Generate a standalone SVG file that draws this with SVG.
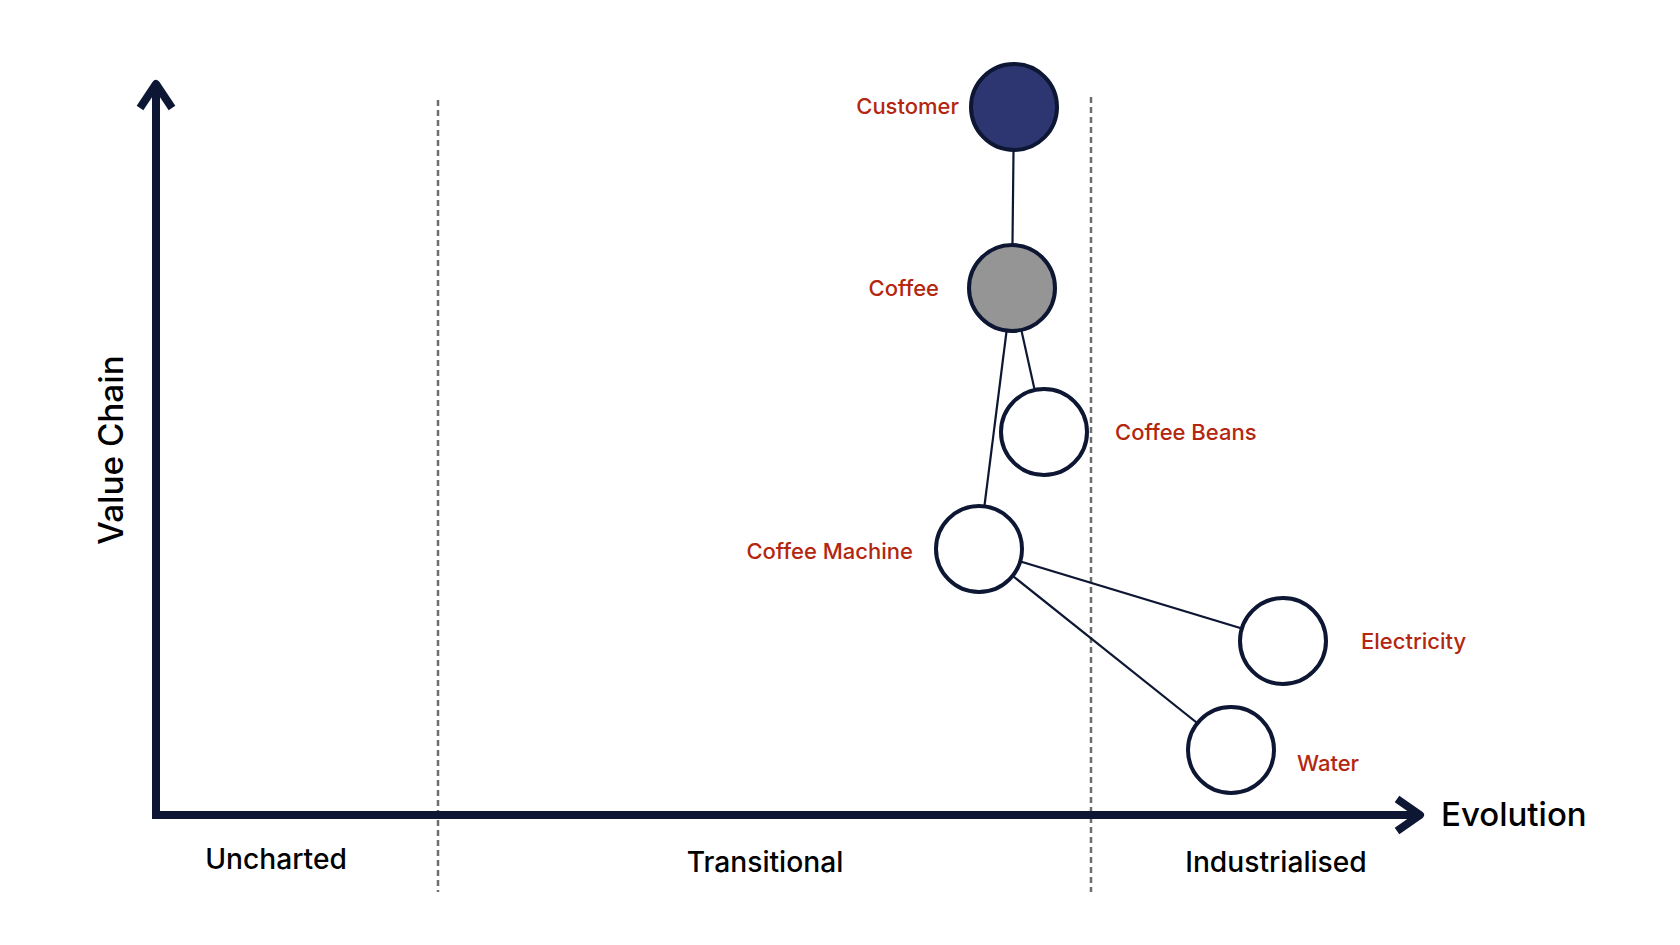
<svg xmlns="http://www.w3.org/2000/svg" width="1680" height="945" viewBox="0 0 1680 945">
<style>
.lbl{font-family:Inter,"Liberation Sans",sans-serif;font-size:22px;font-weight:500;fill:#b3260f}
.ax{font-family:Inter,"Liberation Sans",sans-serif;font-weight:500;fill:#000}
.node{stroke:#0d1733;stroke-width:4;fill:#fff}
.edge{stroke:#0d1733;stroke-width:2.2;fill:none}
.div{stroke:#6e6e6e;stroke-width:2.5;stroke-dasharray:6 4;fill:none}
.axis{stroke:#0d1733;stroke-width:8;fill:none;stroke-linecap:square}
.head{stroke:#0d1733;stroke-width:8;fill:none;stroke-linejoin:round}
</style>
<rect width="1680" height="945" fill="#fff"/>
<g id="dividers">
<line class="div" x1="438" y1="100" x2="438" y2="892"/>
<line class="div" x1="1091" y1="97" x2="1091" y2="892"/>
</g>
<g id="axes">
<polyline class="axis" points="156,88 156,815 1416,815"/>
<polyline class="head" points="140,108 156,84 172,108"/>
<polyline class="head" points="1397,799 1420,815 1397,831"/>
<text class="ax" x="1441" y="826" font-size="33">Evolution</text>
<text class="ax" transform="translate(123,450) rotate(-90)" text-anchor="middle" font-size="33.3">Value Chain</text>
<text class="ax" x="276" y="869" font-size="28.2" text-anchor="middle">Uncharted</text>
<text class="ax" x="765" y="872" font-size="28.2" text-anchor="middle">Transitional</text>
<text class="ax" x="1276" y="872" font-size="28.2" text-anchor="middle">Industrialised</text>
</g>
<g id="connectors">
<line class="edge" x1="1014" y1="107" x2="1012" y2="288"/>
<line class="edge" x1="1012" y1="288" x2="1044" y2="432"/>
<line class="edge" x1="1012" y1="288" x2="979" y2="549"/>
<line class="edge" x1="979" y1="549" x2="1283" y2="641"/>
<line class="edge" x1="979" y1="549" x2="1231" y2="750"/>
</g>
<g id="customer">
<circle class="node" cx="1014" cy="107" r="43" style="fill:#2e3672"/>
<text class="lbl" x="959" y="114" text-anchor="end">Customer</text>
</g>
<g id="coffee">
<circle class="node" cx="1012" cy="288" r="43" style="fill:#959595"/>
<text class="lbl" x="939" y="296" text-anchor="end">Coffee</text>
</g>
<g id="coffee-beans">
<circle class="node" cx="1044" cy="432" r="43"/>
<text class="lbl" x="1115" y="440">Coffee Beans</text>
</g>
<g id="coffee-machine">
<circle class="node" cx="979" cy="549" r="43"/>
<text class="lbl" x="913" y="559" text-anchor="end">Coffee Machine</text>
</g>
<g id="electricity">
<circle class="node" cx="1283" cy="641" r="43"/>
<text class="lbl" x="1361" y="649">Electricity</text>
</g>
<g id="water">
<circle class="node" cx="1231" cy="750" r="43"/>
<text class="lbl" x="1297" y="771">Water</text>
</g>
</svg>
